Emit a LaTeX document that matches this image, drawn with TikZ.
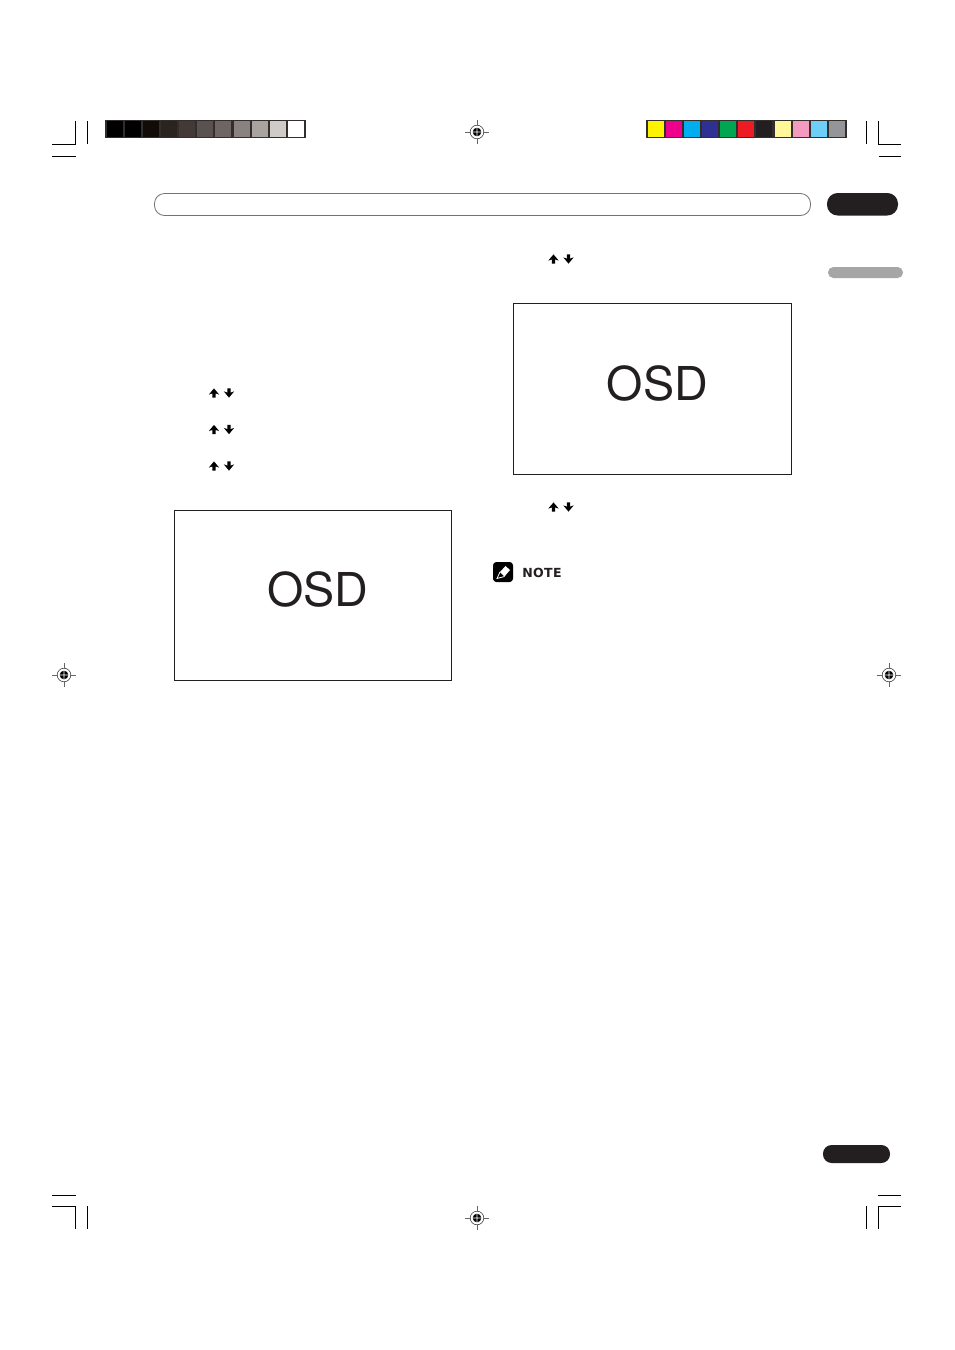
\documentclass[tikz,border=0pt]{standalone}
\usepackage{fontspec}
\setmainfont{TeX Gyre Heros}
\newfontfamily\notefont[LetterSpace=3]{DejaVu Sans}
\definecolor{inkdark}{HTML}{231F20}
\definecolor{stripframe}{HTML}{332E2C}
\tikzset{
  crop/.style={draw=black,line width=0.75pt},
  screenbox/.style={draw=inkdark,line width=0.75pt,fill=white,minimum width=0pt},
  osdlabel/.style={text=inkdark,font=\fontsize{35pt}{36pt}\selectfont,inner sep=0pt,anchor=center},
  uparrow/.pic={\fill[black] (-5.2,1.6)--(0,-4.6)--(5.2,1.6)--(1.7,0.4)--(1.7,4.6)--(-1.7,4.6)--(-1.7,0.4)--cycle;},
  downarrow/.pic={\fill[black] (-5.2,-1.6)--(0,4.6)--(5.2,-1.6)--(1.7,-0.4)--(1.7,-4.6)--(-1.7,-4.6)--(-1.7,-0.4)--cycle;},
  regmark/.pic={
    \draw[black!60,line width=0.4pt] (-12,0)--(12,0) (0,-12)--(0,12);
    \draw[black!80,line width=0.4pt,fill=white] (0,0) circle (6.8);
    \fill[black] (0,0) circle (4.3);
    \fill[white] (-0.45,-4.6)rectangle(0.45,4.6) (-4.6,-0.45)rectangle(4.6,0.45);
  },
}
\begin{document}
\begin{tikzpicture}[x=0.75pt,y=-0.75pt]
\useasboundingbox (0,0) rectangle (954,1350);
\fill[white] (0,0) rectangle (954,1350);
% gray strip
\fill[stripframe] (105,120) rectangle (306,138);
\foreach \i/\c in {0/000000,1/000000,2/120C07,3/2A2420,4/433A37,5/595250,6/6F6663,7/8A8280,8/A8A39F,9/CFCBC9,10/FFFFFF}{
  \definecolor{cellcol}{HTML}{\c}
  \fill[cellcol] ({106.7+18.13*\i},121.3) rectangle ++(16,15.2);
}
% colour strip
\fill[stripframe] (646,120) rectangle (847,138);
\foreach \i/\c in {0/FFF200,1/EC008C,2/00AEEF,3/2E3192,4/00A651,5/ED1C24,6/231F20,7/FFF799,8/F49AC1,9/6DCFF6,10/939598}{
  \definecolor{cellcol}{HTML}{\c}
  \fill[cellcol] ({647.7+18.13*\i},121.3) rectangle ++(16,15.2);
}
% crop marks
\draw[crop] (52,144.3)--(75.8,144.3)--(75.8,121) (87.7,121)--(87.7,144) (52,156.3)--(76,156.3);
\draw[crop] (866.5,121)--(866.5,144) (878.5,121)--(878.5,144.3)--(901,144.3) (878.5,156.3)--(901,156.3);
\draw[crop] (52,1195.3)--(76,1195.3) (52,1206.5)--(75.8,1206.5)--(75.8,1229) (87.7,1206)--(87.7,1229);
\draw[crop] (866.5,1206)--(866.5,1229) (878.5,1229)--(878.5,1206.5)--(901,1206.5) (878,1195.3)--(901,1195.3);
% registration marks
\pic at (477,132) {regmark};
\pic at (64,675) {regmark};
\pic at (889,675) {regmark};
\pic at (477,1218) {regmark};
% header bar and tabs
\draw[draw=black!55,line width=0.6pt,rounded corners=7.5pt] (154.5,193.5) rectangle (810.5,215.5);
\fill[inkdark,rounded corners=8pt] (827,193) rectangle (898,215.5);
\fill[black!35,rounded corners=4pt] (828,267) rectangle (903,278);
\fill[inkdark,rounded corners=6.5pt] (823,1145) rectangle (890,1163);
% arrows
\foreach \y in {393,429.5,466} {\pic at (214,\y) {uparrow}; \pic at (229,\y) {downarrow};}
\foreach \y in {259,507} {\pic at (553.5,\y) {uparrow}; \pic at (568.5,\y) {downarrow};}
% OSD screens
\draw[screenbox] (174.5,510.5) rectangle (451.5,680.5);
\draw[screenbox] (513.5,303.5) rectangle (791.5,474.5);
\node[osdlabel] (osdleft) at (318,589.5) {OSD};
\node[osdlabel] (osdright) at (657.5,383) {OSD};
% note icon
\fill[black,rounded corners=2.5pt] (493,562) rectangle (513,582);
\fill[white] (500,572) -- (505.5,566) -- (510,570) -- (504.5,576.5) -- cycle;
\draw[white,line width=0.6pt] (500,572) -- (497,578.5) -- (504.5,576.5);
\node[inner sep=0pt,anchor=west,text=inkdark,font=\notefont\bfseries\fontsize{9.4pt}{10pt}\selectfont] (note) at (522,573) {NOTE};
\end{tikzpicture}
\end{document}
